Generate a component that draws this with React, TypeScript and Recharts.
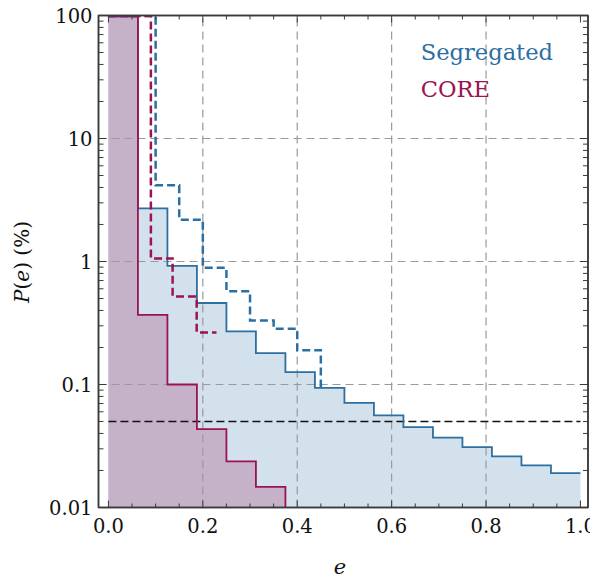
import React from 'react';
import {
  ComposedChart,
  Area,
  Line,
  XAxis,
  YAxis,
  ReferenceLine,
  ReferenceArea,
} from 'recharts';

// histogram bin starts (e) and P(e) in %
const segEdges = [0, 0.0625, 0.125, 0.1875, 0.25, 0.3125, 0.375, 0.4375, 0.5, 0.5625, 0.625, 0.6875, 0.75, 0.8125, 0.875, 0.9375, 1.0];
const segValues = [98, 2.7, 0.92, 0.46, 0.27, 0.18, 0.126, 0.094, 0.071, 0.056, 0.045, 0.037, 0.031, 0.026, 0.022, 0.019, 0.019];

const coreEdges = [0, 0.0625, 0.125, 0.1875, 0.25, 0.3125, 0.375];
const coreValues = [99, 0.368, 0.1, 0.0433, 0.0237, 0.0147, 0.01];

const segDashEdges = [0, 0.1, 0.15, 0.2, 0.25, 0.3, 0.35, 0.4, 0.45];
const segDashValues = [99, 4.16, 2.19, 0.89, 0.573, 0.331, 0.284, 0.19, 0.095];

const coreDashEdges = [0, 0.09, 0.136, 0.187, 0.229];
const coreDashValues = [99, 1.06, 0.52, 0.265, 0.265];

const xTicks = [0, 0.05, 0.1, 0.15, 0.2, 0.25, 0.3, 0.35, 0.4, 0.45, 0.5, 0.55, 0.6, 0.65, 0.7, 0.75, 0.8, 0.85, 0.9, 0.95, 1.0];
const yTicks = [
  0.01, 0.02, 0.03, 0.04, 0.05, 0.06, 0.07, 0.08, 0.09,
  0.1, 0.2, 0.3, 0.4, 0.5, 0.6, 0.7, 0.8, 0.9,
  1, 2, 3, 4, 5, 6, 7, 8, 9,
  10, 20, 30, 40, 50, 60, 70, 80, 90, 100,
];
const xGrid = [0.2, 0.4, 0.6, 0.8];
const yGrid = [0.1, 1, 10];
const threshold = 0.05;

const toRows = (edges: number[], values: number[]) =>
  edges.map((e, i) => ({ e, v: values[i] }));

const segData = toRows(segEdges, segValues);
const coreData = toRows(coreEdges, coreValues);
const segDashData = toRows(segDashEdges, segDashValues);
const coreDashData = toRows(coreDashEdges, coreDashValues);

const BLUE = '#2c6fa2';
const MAGENTA = '#9b1354';
const FRAME = '#3a3a3a';
const FONT = '"DejaVu Serif", serif';

const W = 582;
const H = 568;
// plot box in chart coordinates
const PL = 90.5;
const PR = 580;
const PT = 7.5;
const PB = 499.5;

const isDecade = (v: number) => Math.abs(Math.log10(v) - Math.round(Math.log10(v))) < 1e-6;
const isMajorX = (v: number) => Math.abs(v * 5 - Math.round(v * 5)) < 1e-6;

const LeftTick = (props: any) => {
  const { y, payload } = props;
  const major = isDecade(payload.value);
  return (
    <g>
      <line x1={PL} x2={PL + (major ? 8 : 5)} y1={y} y2={y} stroke={FRAME} strokeWidth={1} />
      {major && (
        <text x={PL - 6} y={y} dy="0.36em" textAnchor="end" fontFamily={FONT} fontSize={19.5} fill="#111">
          {String(payload.value)}
        </text>
      )}
    </g>
  );
};

const RightTick = (props: any) => {
  const { y, payload } = props;
  const major = isDecade(payload.value);
  return <line x1={PR} x2={PR - (major ? 8 : 5)} y1={y} y2={y} stroke={FRAME} strokeWidth={1} />;
};

const BottomTick = (props: any) => {
  const { x, payload } = props;
  const major = isMajorX(payload.value);
  return (
    <g>
      <line x1={x} x2={x} y1={PB} y2={PB - (major ? 7 : 4)} stroke={FRAME} strokeWidth={1} />
      {major && (
        <text x={x} y={PB + 25} textAnchor="middle" fontFamily={FONT} fontSize={19.5} fill="#111">
          {payload.value.toFixed(1)}
        </text>
      )}
    </g>
  );
};

const TopTick = (props: any) => {
  const { x, payload } = props;
  const major = isMajorX(payload.value);
  return <line x1={x} x2={x} y1={PT} y2={PT + (major ? 7 : 4)} stroke={FRAME} strokeWidth={1} />;
};

export default function App() {
  const xDomain: [number, number] = [-0.021, 1.016];
  const yDomain: [number, number] = [0.01, 100];

  return (
    <div style={{ position: 'relative', width: W, height: H }}>
      <style>{'svg { overflow: visible; }'}</style>
      <ComposedChart
        width={W}
        height={H}
        margin={{ top: 6.5, right: 1, bottom: 28.5, left: 30.5 }}
      >
        <XAxis
          dataKey="e"
          type="number"
          domain={xDomain}
          allowDataOverflow
          ticks={xTicks}
          interval={0}
          tickLine={false}
          tick={<BottomTick />}
          axisLine={{ stroke: FRAME, strokeWidth: 1.5 }}
          height={40}
        />
        <XAxis
          xAxisId="top"
          orientation="top"
          dataKey="e"
          type="number"
          domain={xDomain}
          allowDataOverflow
          ticks={xTicks}
          interval={0}
          tickLine={false}
          tick={<TopTick />}
          axisLine={{ stroke: FRAME, strokeWidth: 1.5 }}
          height={1}
        />
        <YAxis
          type="number"
          scale="log"
          domain={yDomain}
          allowDataOverflow
          ticks={yTicks}
          interval={0}
          tickLine={false}
          tick={<LeftTick />}
          axisLine={{ stroke: FRAME, strokeWidth: 1.5 }}
          width={60}
        />
        <YAxis
          yAxisId="right"
          orientation="right"
          type="number"
          scale="log"
          domain={yDomain}
          allowDataOverflow
          ticks={yTicks}
          interval={0}
          tickLine={false}
          tick={<RightTick />}
          axisLine={{ stroke: FRAME, strokeWidth: 1.5 }}
          width={1}
        />

        <Area
          data={segData}
          dataKey="v"
          type="stepAfter"
          baseValue={0.01}
          fill="#d3e1ec"
          fillOpacity={1}
          stroke="none"
          isAnimationActive={false}
        />
        <Area
          data={coreData}
          dataKey="v"
          type="stepAfter"
          baseValue={0.01}
          fill="#c5b1c8"
          fillOpacity={1}
          stroke="none"
          isAnimationActive={false}
        />

        {xGrid.map((g) => (
          <ReferenceLine key={`gx${g}`} x={g} stroke="#9a9a9a" strokeWidth={1.2} strokeDasharray="8 5" />
        ))}
        {yGrid.map((g) => (
          <ReferenceLine key={`gy${g}`} y={g} stroke="#9a9a9a" strokeWidth={1.2} strokeDasharray="8 5" />
        ))}
        <ReferenceLine
          segment={[{ x: 0, y: threshold }, { x: 1, y: threshold }]}
          stroke="#111"
          strokeWidth={1.5}
          strokeDasharray="8 4"
        />

        <Line
          data={segData}
          dataKey="v"
          type="stepAfter"
          stroke={BLUE}
          strokeWidth={1.8}
          dot={false}
          isAnimationActive={false}
        />
        <Line
          data={coreData}
          dataKey="v"
          type="stepAfter"
          stroke={MAGENTA}
          strokeWidth={1.8}
          dot={false}
          isAnimationActive={false}
        />
        <Line
          data={segDashData}
          dataKey="v"
          type="stepAfter"
          stroke={BLUE}
          strokeWidth={2.5}
          strokeDasharray="8 4"
          dot={false}
          isAnimationActive={false}
        />
        <Line
          data={coreDashData}
          dataKey="v"
          type="stepAfter"
          stroke={MAGENTA}
          strokeWidth={2.5}
          strokeDasharray="8 4"
          dot={false}
          isAnimationActive={false}
        />

        <ReferenceArea
          x1={xDomain[0]}
          x2={xDomain[1]}
          y1={yDomain[0]}
          y2={yDomain[1]}
          fill="none"
          fillOpacity={0}
          stroke={FRAME}
          strokeWidth={1.5}
        />
      </ComposedChart>

      <svg
        width={W}
        height={H}
        style={{ position: 'absolute', left: 0, top: 0, pointerEvents: 'none' }}
      >
        <text x={412.7} y={52} fontFamily={FONT} fontSize={22.6} fill={BLUE}>Segregated</text>
        <text x={412.7} y={88.7} fontFamily={FONT} fontSize={22.6} fill={MAGENTA}>CORE</text>
        <text x={332} y={566} textAnchor="middle" fontFamily={FONT} fontSize={21} fontStyle="italic" fill="#111">e</text>
        <text
          x={21}
          y={254}
          textAnchor="middle"
          fontFamily={FONT}
          fontSize={20}
          fill="#111"
          transform="rotate(-90, 21, 254)"
        >
          <tspan fontStyle="italic">P</tspan>(<tspan fontStyle="italic">e</tspan>) (%)
        </text>
      </svg>
    </div>
  );
}
